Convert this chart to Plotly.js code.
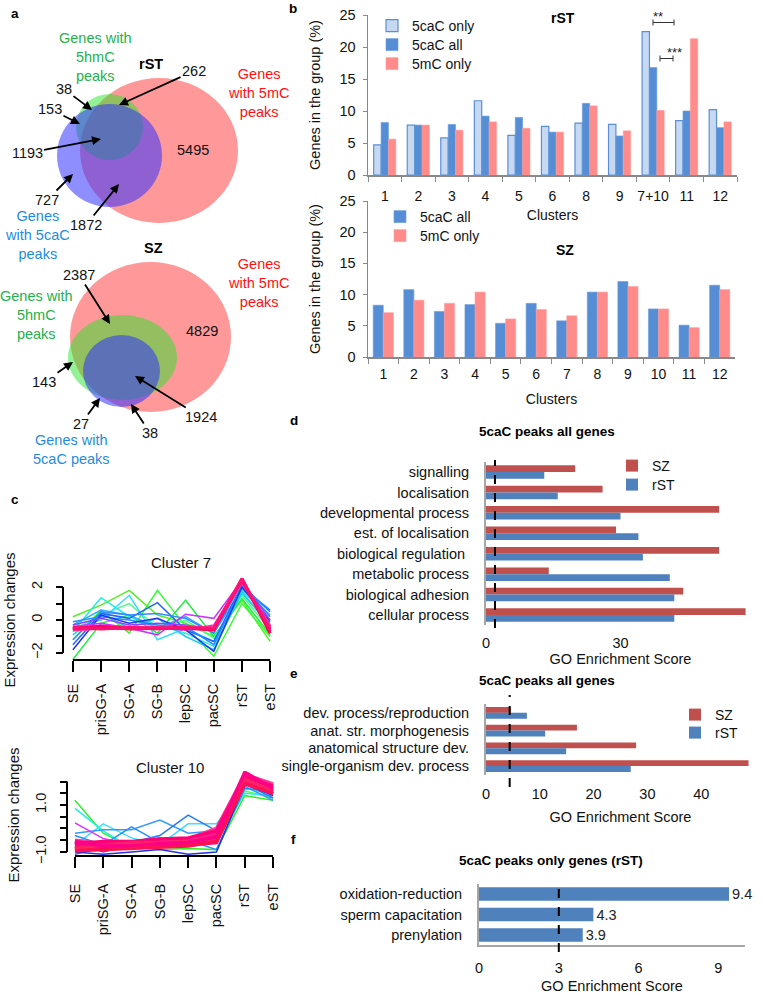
<!DOCTYPE html>
<html><head><meta charset="utf-8">
<script src="https://cdn.plot.ly/plotly-3.0.1.min.js"></script>
<style>html,body{margin:0;padding:0;background:#fff;}#chart{width:762px;height:994px;}</style>
</head><body><div id="chart"></div>
<script>
// ---------- DATA ----------
const clustersRST = ['1','2','3','4','5','6','8','9','7+10','11','12'];
const rst5caCOnly = [4.7, 7.8, 5.8, 11.6, 6.2, 7.6, 8.1, 7.9, 22.4, 8.5, 10.2];
const rst5caCAll  = [8.2, 7.8, 7.9, 9.2, 9.0, 6.7, 11.2, 6.1, 16.8, 10.0, 7.4];
const rst5mCOnly  = [5.6, 7.8, 7.0, 8.3, 7.3, 6.7, 10.8, 6.9, 10.1, 21.3, 8.3];

const clustersSZ = ['1','2','3','4','5','6','7','8','9','10','11','12'];
const sz5caCAll  = [8.3, 10.8, 7.3, 8.4, 5.4, 8.6, 5.8, 10.4, 12.1, 7.7, 5.1, 11.5];
const sz5mCOnly  = [7.1, 9.1, 8.6, 10.4, 6.1, 7.6, 6.6, 10.4, 11.3, 7.7, 4.7, 10.8];

const rstVennCounts = ['38', '153', '1193', '727', '1872', '262', '5495'];
const szVennCounts  = ['2387', '4829', '143', '1924', '27', '38'];

const stages = ['SE','priSG-A','SG-A','SG-B','lepSC','pacSC','rST','eST'];
const cluster7Lines = [
  [0.2, 0.9, 1.8, 0.3, -0.2, -1.0, 1.2, -1.3],
  [-1.2, 0.6, -0.8, 1.8, -0.4, -2.2, 1.0, -1.0],
  [-2.4, -0.2, 0.3, -0.8, 1.2, -1.0, 1.3, -0.9],
  [-0.6, 0.3, 1.0, -0.5, 0.0, -1.1, 1.5, -0.6],
  [-0.7, 1.35, 0.2, -0.3, -0.8, -1.6, 1.6, -0.2],
  [-0.5, 0.0, 1.5, -1.2, -0.5, -1.3, 1.8, 0.0],
  [-0.9, 0.4, -0.5, 0.1, -1.0, -1.8, 1.7, -0.4],
  [-0.3, 0.6, 0.3, -0.5, 0.2, -0.8, 1.9, 0.3],
  [-1.5, 0.4, 0.1, 1.05, -0.6, -1.3, 2.1, 0.5],
  [-1.2, 0.5, 0.3, 0.4, 0.1, -0.8, 2.2, 0.2],
  [-0.1, 0.2, 0.0, -0.3, -0.4, -1.5, 2.0, 0.6],
  [-1.8, 0.3, -0.2, 0.1, -0.6, -1.9, 2.0, -0.1],
  [-0.3, 0.1, -0.3, -0.2, -0.3, -0.6, 2.3, 0.0],
  [-0.4, -0.2, -0.5, -0.9, 0.35, 0.1, 2.4, -0.3],
  [-0.5, -0.3, -0.4, -0.5, -0.6, -0.3, 2.4, -0.4],
  [-0.6, -0.5, -0.45, -0.55, -0.4, -0.5, 2.3, -0.4],
  [-0.55, -0.45, -0.5, -0.45, -0.55, -0.45, 2.4, -0.5],
  [-0.45, -0.55, -0.45, -0.5, -0.45, -0.55, 2.45, -0.7],
  [-0.5, -0.4, -0.55, -0.5, -0.5, -0.6, 2.5, -0.8],
  [-0.5, -0.5, -0.5, -0.5, -0.5, -0.5, 2.5, -0.6]
];
const cluster7Colors = ['#55EE22','#33FF33','#22EE44','#44FF88','#22EEDD','#33DDFF','#22CCEE','#33AAFF',
  '#2266FF','#3388FF','#1E90FF','#2233EE','#8844FF','#CC33FF','#EE22EE','#FF3399','#FF2277','#FF1166','#FF0055','#FF1177'];

const cluster10Lines = [
  [1.2, -0.2, -0.8, -0.9, -0.85, -0.9, 1.4, 1.2],
  [-0.9, -0.95, -0.85, -0.8, -0.7, -0.6, 1.6, 1.3],
  [0.86, -0.1, -0.85, -0.8, -0.7, -0.5, 1.5, 1.4],
  [-0.7, 0.2, -0.4, -0.7, 0.2, 0.2, 1.7, 1.5],
  [-0.2, -0.05, -0.05, 0.36, -0.2, -0.1, 1.8, 1.2],
  [-1.1, -0.8, -0.6, -0.3, 0.57, -0.1, 1.9, 1.3],
  [-0.3, -0.7, 0.07, -0.6, -0.5, -0.9, 1.7, 1.6],
  [-1.0, -1.1, -1.0, -0.9, -1.1, -1.0, 1.9, 1.4],
  [-0.6, -1.0, -0.7, -0.4, -0.6, -0.3, 2.0, 1.5],
  [0.24, -0.43, -0.7, -0.5, -0.6, -0.2, 2.1, 1.6],
  [-0.6, -0.7, -0.65, -0.6, -0.55, -0.3, 2.2, 1.7],
  [-0.8, -0.75, -0.7, -0.65, -0.6, -0.4, 2.1, 1.6],
  [-0.7, -0.6, -0.7, -0.55, -0.5, -0.2, 2.3, 1.8],
  [-0.9, -0.8, -0.75, -0.7, -0.65, -0.5, 2.0, 1.5],
  [-0.5, -0.65, -0.6, -0.5, -0.45, 0.0, 2.3, 1.9],
  [-0.75, -0.85, -0.8, -0.75, -0.7, -0.6, 2.0, 1.7],
  [-0.65, -0.55, -0.55, -0.45, -0.4, -0.1, 2.2, 1.8],
  [-0.85, -0.7, -0.6, -0.6, -0.55, -0.45, 2.1, 1.6],
  [-0.55, -0.75, -0.75, -0.65, -0.6, -0.35, 2.4, 1.7],
  [-0.95, -0.9, -0.85, -0.8, -0.75, -0.55, 1.9, 1.5]
];
const cluster10Colors = ['#33EE22','#55FF55','#22EEEE','#44DDFF','#3399FF','#2277FF','#1E90FF','#2233DD','#7744FF','#DD33FF',
  '#FF0066','#FF1177','#FF2288','#FF0055','#FF3399','#FF1166','#FF0077','#FF2266','#FF0088','#FF1155'];

const goTermsD = ['signalling','localisation','developmental process','est. of localisation','biological regulation ','metabolic process','biological adhesion','cellular process'];
const goSZ_D  = [19.9, 26.0, 52.0, 29.0, 52.0, 14.0, 44.0, 57.9];
const goRST_D = [13.0, 16.0, 30.0, 34.0, 35.0, 41.0, 42.0, 42.0];
const thresholdD = 2;

const goTermsE = ['dev. process/reproduction','anat. str. morphogenesis','anatomical structure dev.','single-organism dev. process'];
const goSZ_E  = [4.6, 16.9, 27.9, 48.8];
const goRST_E = [7.6, 11.0, 14.9, 26.9];
const thresholdE = 4.4;

const goTermsF = ['oxidation-reduction','sperm capacitation','prenylation'];
const goRST_F  = [9.4, 4.3, 3.9];
const thresholdF = 3;

// ---------- LAYOUT HELPERS ----------
const W = 762, H = 994;
const X = p => p / W;
const Y = p => 1 - p / H;
const FONT = 'Liberation Sans, Arial, sans-serif';
const GRAY = '#898989';

const traces = [];
// Panel b top
traces.push({type:'bar', x:clustersRST, y:rst5caCOnly, name:'5caC only', xaxis:'x', yaxis:'y', legend:'legend',
  marker:{color:'#C6D9F1', line:{color:'#5B8FD6', width:1.2}}});
traces.push({type:'bar', x:clustersRST, y:rst5caCAll, name:'5caC all', xaxis:'x', yaxis:'y', legend:'legend5',
  marker:{color:'#558ED5', line:{color:'#6A9CDB', width:0.6}}});
traces.push({type:'bar', x:clustersRST, y:rst5mCOnly, name:'5mC only', xaxis:'x', yaxis:'y', legend:'legend6',
  marker:{color:'#FF8B8B', line:{color:'#FF9C9C', width:0.6}}});
// Panel b bottom
traces.push({type:'bar', x:clustersSZ, y:sz5caCAll, name:'5caC all', xaxis:'x2', yaxis:'y2', legend:'legend2',
  marker:{color:'#558ED5', line:{color:'#6A9CDB', width:0.6}}});
traces.push({type:'bar', x:clustersSZ, y:sz5mCOnly, name:'5mC only', xaxis:'x2', yaxis:'y2', legend:'legend7',
  marker:{color:'#FF8B8B', line:{color:'#FF9C9C', width:0.6}}});
// Panel c
cluster7Lines.forEach((v, i) => traces.push({type:'scatter', mode:'lines', x:stages.map((s,k)=>k), y:v,
  xaxis:'x3', yaxis:'y3', showlegend:false, hoverinfo:'skip',
  line:{color:cluster7Colors[i], width: i >= 15 ? 3 : 1.5}}));
cluster10Lines.forEach((v, i) => traces.push({type:'scatter', mode:'lines', x:stages.map((s,k)=>k), y:v,
  xaxis:'x4', yaxis:'y4', showlegend:false, hoverinfo:'skip',
  line:{color:cluster10Colors[i], width: i >= 10 ? 3.5 : 1.5}}));
// Panel d
traces.push({type:'bar', orientation:'h', y:goTermsD, x:goSZ_D, name:'SZ', xaxis:'x5', yaxis:'y5', legend:'legend3', marker:{color:'#C0504D'}});
traces.push({type:'bar', orientation:'h', y:goTermsD, x:goRST_D, name:'rST', xaxis:'x5', yaxis:'y5', legend:'legend8', marker:{color:'#4F81BD'}});
// Panel e
traces.push({type:'bar', orientation:'h', y:goTermsE, x:goSZ_E, name:'SZ', xaxis:'x6', yaxis:'y6', legend:'legend4', marker:{color:'#C0504D'}});
traces.push({type:'bar', orientation:'h', y:goTermsE, x:goRST_E, name:'rST', xaxis:'x6', yaxis:'y6', legend:'legend9', marker:{color:'#4F81BD'}});
// Panel f
traces.push({type:'bar', orientation:'h', y:goTermsF, x:goRST_F, name:'rST', xaxis:'x7', yaxis:'y7', showlegend:false,
  marker:{color:'#4F81BD'}, text:goRST_F.map(v=>v.toFixed(1)), textposition:'outside', cliponaxis:false,
  constraintext:'none', textfont:{size:14.5, color:'#222', family:FONT}});

const tf = {size:14.5, color:'#111', family:FONT};
const tfb = {size:14, color:'#111', family:FONT};
const noGrid = {showgrid:false, zeroline:false, fixedrange:true};

function leg(x, itemCenterY, size) {
  return {x:X(x), y:Y(itemCenterY - 14), xanchor:'left', yanchor:'top', tracegroupgap:0,
    font:{size:size || 14, color:'#111', family:FONT}, bgcolor:'rgba(0,0,0,0)'};
}

const layout = {
  width:W, height:H, margin:{l:0,r:0,t:0,b:0}, paper_bgcolor:'#fff', plot_bgcolor:'rgba(0,0,0,0)',
  font:{family:FONT, size:14, color:'#111'}, barmode:'group', bargap:0.34, bargroupgap:0, showlegend:true,
  xaxis:Object.assign({}, noGrid, {domain:[X(368),X(737)], anchor:'y', type:'category', showline:true, linecolor:GRAY, linewidth:1.5,
    ticks:'outside', tickson:'boundaries', ticklen:5, tickcolor:GRAY, tickfont:tfb, tickangle:0, ticklabelstandoff:8,
    title:{text:'Clusters', font:tfb, standoff:7}}),
  yaxis:Object.assign({}, noGrid, {domain:[Y(175),Y(15)], anchor:'x', range:[0,25], tickvals:[0,5,10,15,20,25], showline:true,
    linecolor:GRAY, linewidth:1.5, ticks:'outside', ticklen:4, tickcolor:GRAY, tickfont:tf, ticklabelstandoff:4,
    title:{text:'Genes in the group (%)', font:tf, standoff:15}}),
  xaxis2:Object.assign({}, noGrid, {domain:[X(368),X(735)], anchor:'y2', type:'category', showline:true, linecolor:GRAY, linewidth:1.5,
    ticks:'outside', tickson:'boundaries', ticklen:5, tickcolor:GRAY, tickfont:tfb, tickangle:0, ticklabelstandoff:4,
    title:{text:'Clusters', font:tfb, standoff:13}}),
  yaxis2:Object.assign({}, noGrid, {domain:[Y(357),Y(201)], anchor:'x2', range:[0,25], tickvals:[0,5,10,15,20,25], showline:true,
    linecolor:GRAY, linewidth:1.5, ticks:'outside', ticklen:4, tickcolor:GRAY, tickfont:tf, ticklabelstandoff:4,
    title:{text:'Genes in the group (%)', font:tf, standoff:15}}),
  xaxis3:Object.assign({}, noGrid, {domain:[X(65),X(278)], anchor:'free', position:Y(660), range:[-0.28,7.28],
    tickvals:[0,1,2,3,4,5,6,7], ticktext:stages, tickangle:-90, ticks:'outside', ticklen:11, tickwidth:2, tickcolor:'#000',
    showline:false, tickfont:tf, ticklabelstandoff:6}),
  yaxis3:Object.assign({}, noGrid, {domain:[Y(664.5),Y(575.5)], anchor:'free', position:X(63), range:[-2.7,2.7],
    tickvals:[-2,-1,0,1,2], ticktext:['\u22122','','0','','2'], tickangle:-90, ticks:'outside', ticklen:7, tickwidth:2,
    tickcolor:'#000', showline:false, tickfont:tf, ticklabelstandoff:8,
    title:{text:'Expression changes', font:{size:15, color:'#111', family:FONT}, standoff:8}}),
  xaxis4:Object.assign({}, noGrid, {domain:[X(67),X(281)], anchor:'free', position:Y(856), range:[-0.28,7.28],
    tickvals:[0,1,2,3,4,5,6,7], ticktext:stages, tickangle:-90, ticks:'outside', ticklen:11, tickwidth:2, tickcolor:'#000',
    showline:false, tickfont:tf, ticklabelstandoff:10}),
  yaxis4:Object.assign({}, noGrid, {domain:[Y(859),Y(771)], anchor:'free', position:X(67), range:[-1.3,2.45],
    tickvals:[-1,-0.5,0,0.5,1,1.5,2], ticktext:['\u22121.0','','','','1.0','',''], tickangle:-90, ticks:'outside', ticklen:7, tickwidth:2,
    tickcolor:'#000', showline:false, tickfont:tf, ticklabelstandoff:8,
    title:{text:'Expression changes', font:{size:15, color:'#111', family:FONT}, standoff:8}}),
  xaxis5:Object.assign({}, noGrid, {domain:[X(486),X(755)], anchor:'y5', range:[0,60], tickvals:[0,30,60], showline:false, ticks:'',
    tickfont:tf, ticklabelstandoff:7, title:{text:'GO Enrichment Score', font:tf, standoff:0}}),
  yaxis5:Object.assign({}, noGrid, {domain:[Y(625.2),Y(461.8)], anchor:'x5', type:'category', autorange:'reversed', showline:true,
    linecolor:'#A6A6A6', linewidth:2, ticks:'', tickfont:tf, ticklabelstandoff:12}),
  xaxis6:Object.assign({}, noGrid, {domain:[X(486),X(755)], anchor:'y6', range:[0,50], tickvals:[0,10,20,30,40,50], showline:false, ticks:'',
    tickfont:tf, ticklabelstandoff:8, title:{text:'GO Enrichment Score', font:tf, standoff:11}}),
  yaxis6:Object.assign({}, noGrid, {domain:[Y(775),Y(704)], anchor:'x6', type:'category', autorange:'reversed', showline:true,
    linecolor:'#A6A6A6', linewidth:2, ticks:'', tickfont:tf, ticklabelstandoff:12}),
  xaxis7:Object.assign({}, noGrid, {domain:[X(479),X(745)], anchor:'y7', range:[0,10], tickvals:[0,3,6,9], showline:true,
    linecolor:'#A6A6A6', linewidth:2, ticks:'', tickfont:tf, ticklabelstandoff:8, title:{text:'GO Enrichment Score', font:tf, standoff:13}}),
  yaxis7:Object.assign({}, noGrid, {domain:[Y(945.3),Y(883.7)], anchor:'x7', type:'category', autorange:'reversed', showline:true,
    linecolor:'#A6A6A6', linewidth:2, ticks:'', tickfont:tf, ticklabelstandoff:12}),
  legend:leg(372, 24), legend5:leg(372, 43), legend6:leg(372, 62),
  legend2:leg(380, 215), legend7:leg(380, 234),
  legend3:leg(612, 464), legend8:leg(612, 483),
  legend4:leg(675, 713, 14), legend9:leg(675, 731, 14),
  shapes:[], annotations:[]
};

// Venn circles (pixel boxes)
function ell(x0, y0, x1, y1, color) {
  return {type:'circle', xref:'paper', yref:'paper', x0:X(x0), x1:X(x1), y0:Y(y1), y1:Y(y0), fillcolor:color, line:{width:0}, layer:'above'};
}
const RED = 'rgba(255,51,51,0.5)', GREEN = 'rgba(40,230,40,0.5)', BLUE = 'rgba(50,50,255,0.55)';
layout.shapes.push(ell(80,78,238,223,RED), ell(76,94,143,160,GREEN), ell(57,104,162,207,BLUE));
layout.shapes.push(ell(70,262,231,412,RED), ell(68,315,177,400,GREEN), ell(83,335,160,407,BLUE));

// Cluster plot axis lines (R style)
const blk = {color:'#000', width:2};
layout.shapes.push({type:'line', xref:'paper', yref:'y3', x0:X(63), x1:X(63), y0:-2, y1:2, line:blk});
layout.shapes.push({type:'line', xref:'x3', yref:'paper', x0:0, x1:7, y0:Y(660), y1:Y(660), line:blk});
layout.shapes.push({type:'line', xref:'paper', yref:'y4', x0:X(67), x1:X(67), y0:-1, y1:2, line:blk});
layout.shapes.push({type:'line', xref:'x4', yref:'paper', x0:0, x1:7, y0:Y(856), y1:Y(856), line:blk});

// Threshold dashed lines
const dsh = {color:'#000', width:2, dash:'dash'};
layout.shapes.push({type:'line', xref:'x5', yref:'paper', x0:thresholdD, x1:thresholdD, y0:Y(628), y1:Y(460), line:dsh});
layout.shapes.push({type:'line', xref:'x6', yref:'paper', x0:thresholdE, x1:thresholdE, y0:Y(787), y1:Y(695), line:dsh});
layout.shapes.push({type:'line', xref:'x7', yref:'paper', x0:thresholdF, x1:thresholdF, y0:Y(952), y1:Y(880), line:dsh});

// Significance brackets
function bracket(x0, x1, y) {
  const l = {color:'#333', width:1};
  layout.shapes.push({type:'line', xref:'paper', yref:'paper', x0:X(x0), x1:X(x1), y0:Y(y), y1:Y(y), line:l});
  layout.shapes.push({type:'line', xref:'paper', yref:'paper', x0:X(x0), x1:X(x0), y0:Y(y-3), y1:Y(y+3), line:l});
  layout.shapes.push({type:'line', xref:'paper', yref:'paper', x0:X(x1), x1:X(x1), y0:Y(y-3), y1:Y(y+3), line:l});
}
bracket(653, 674, 22.5);
bracket(660, 673, 58.5);

// Annotations
function txt(text, x, y, opts) {
  layout.annotations.push(Object.assign({xref:'paper', yref:'paper', x:X(x), y:Y(y), text:text, showarrow:false,
    xanchor:'center', yanchor:'middle', font:{size:14, color:'#111', family:FONT}}, opts || {}));
}
function arr(text, tx, ty, hx, hy) {
  layout.annotations.push({xref:'paper', yref:'paper', x:X(hx), y:Y(hy), ax:tx-hx, ay:ty-hy, text:text, showarrow:true,
    arrowhead:2, arrowsize:1, arrowwidth:1.8, arrowcolor:'#000', font:{size:14.5, color:'#111', family:FONT}});
}
function btxt(s, x, y, sz) { txt('<b>'+s+'</b>', x, y, {font:{size:sz||14, color:'#000', family:FONT}}); }

// panel letters
btxt('a', 15, 13, 13.5); btxt('b', 293, 8, 13.5); btxt('c', 15, 500, 13.5);
btxt('d', 294, 420, 13.5); btxt('e', 294, 673, 13.5); btxt('f', 293, 839, 13.5);
// Venn rST
const GCOL = '#22B14C', BCOL = '#1E8CDC', RCOL = '#FF1010';
txt('Genes with<br>5hmC<br>peaks', 95, 57, {font:{size:14.5, color:GCOL, family:FONT}});
btxt('rST', 151, 64, 14.5);
txt('Genes<br>with 5mC<br>peaks', 258, 93, {font:{size:14.5, color:RCOL, family:FONT}});
txt('Genes<br>with 5caC<br>peaks', 37, 235, {font:{size:14.5, color:BCOL, family:FONT}});
arr(rstVennCounts[0], 64, 89, 92, 110);
arr(rstVennCounts[1], 50, 109, 80, 124);
arr(rstVennCounts[2], 27, 153, 101, 139);
arr(rstVennCounts[3], 47, 200, 73, 174);
arr(rstVennCounts[4], 86, 225, 119, 184);
arr(rstVennCounts[5], 194, 71, 119, 105);
txt(rstVennCounts[6], 193, 150, {font:{size:14.5, color:'#111', family:FONT}});
// Venn SZ
btxt('SZ', 153, 248, 14.5);
txt('Genes<br>with 5mC<br>peaks', 258, 283, {font:{size:14.5, color:RCOL, family:FONT}});
txt('Genes with<br>5hmC<br>peaks', 36, 315, {font:{size:14.5, color:GCOL, family:FONT}});
txt('Genes with<br>5caC peaks', 71, 449, {font:{size:14.5, color:BCOL, family:FONT}});
arr(szVennCounts[0], 79, 275, 110, 324);
txt(szVennCounts[1], 202, 331, {font:{size:14.5, color:'#111', family:FONT}});
arr(szVennCounts[2], 44, 382, 73, 362);
arr(szVennCounts[3], 201, 417, 135, 376);
arr(szVennCounts[4], 81, 424, 100, 398);
arr(szVennCounts[5], 150, 433, 131, 404);
// panel b titles + significance
btxt('rST', 563, 18, 14); btxt('SZ', 565, 250, 14);
txt('**', 658, 17, {font:{size:13, color:'#222', family:FONT}});
txt('***', 674, 53, {font:{size:13, color:'#222', family:FONT}});
// panel c titles
txt('Cluster 7', 181, 562, {font:{size:15, color:'#111', family:FONT}});
txt('Cluster 10', 170, 767, {font:{size:15, color:'#111', family:FONT}});
// panel d/e/f titles
btxt('5caC peaks all genes', 547, 431, 13.5);
btxt('5caC peaks all genes', 547, 680, 13.5);
btxt('5caC peaks only genes (rST)', 551, 860, 13.5);

Plotly.newPlot('chart', traces, layout, {staticPlot:true, displayModeBar:false});
</script></body></html>
